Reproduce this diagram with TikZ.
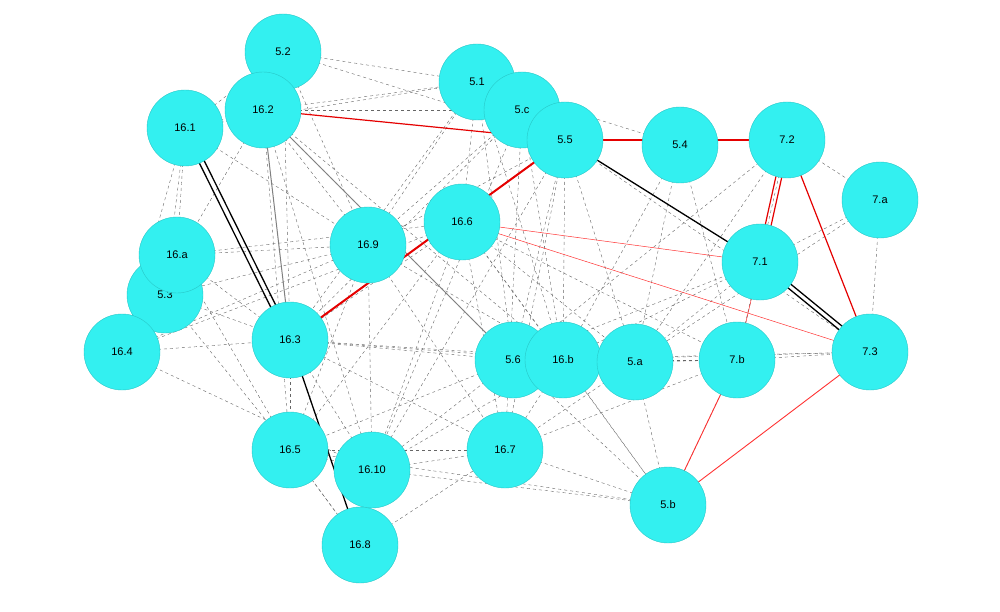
\documentclass[tikz,border=0pt]{standalone}
\usepackage{fontspec}
\setmainfont{Liberation Sans}
\usetikzlibrary{arrows.meta}
\definecolor{nodecyan}{RGB}{51,240,240}
\definecolor{nodeedge}{RGB}{40,200,200}
\tikzset{
 nd/.style={circle,fill=nodecyan,draw=nodeedge,line width=0.4pt,minimum size=76pt,inner sep=0pt,font=\fontsize{11}{13}\selectfont},
 dsh/.style={draw=black!60,dashed,line width=0.4pt,-{Stealth[length=4pt,width=3pt]}},
 redl/.style={draw=red!90!black,line width=1.2pt,-{Stealth[length=7pt,width=5pt]}},
 redt/.style={draw=red!80,line width=0.5pt,-{Stealth[length=6pt,width=4pt]}},
 blk/.style={draw=black,line width=1.3pt,-{Stealth[length=7pt,width=5pt]}}
}
\begin{document}
\begin{tikzpicture}[x=1pt,y=-1pt]
\useasboundingbox (0,0) rectangle (1000,612);
\path[fill=white] (0,0) rectangle (1000,612);
% nodes positioned as coordinates first
\foreach \n/\x/\y in {n52/283/52,n161/185/128,n162/263/110,n51/477/82,n5c/522/110,n55/565/140,n54/680/145,n72/787/140,n7a/880/200,n166/462/222,n169/368/245,n53/165/295,n16a/177/255,n164/122/352,n163/290/340,n56/513/360,n16b/563/360,n5a/635/362,n7b/737/360,n71/760/262,n73/870/352,n165/290/450,n1610/372/470,n167/505/450,n5b/668/505,n168/360/545}
  \coordinate (\n) at (\x,\y);
% dashed edges
\foreach \a/\b in {n52/n51,n52/n161,n52/n162,n52/n163,n52/n55,n161/n51,n161/n16a,n161/n53,n161/n164,n161/n169,n162/n51,n162/n5c,n162/n169,n162/n165,n162/n56,n162/n16b,n162/n1610,n162/n164,n51/n169,n51/n163,n51/n56,n51/n16b,n51/n166,n51/n54,n5c/n163,n5c/n167,n5c/n1610,n5c/n16b,n5c/n169,n55/n56,n55/n16b,n55/n5a,n55/n169,n55/n1610,n55/n167,n55/n72,n55/n73,n54/n16b,n54/n5a,n54/n7b,n72/n7a,n72/n5a,n72/n56,n72/n7b,n7a/n73,n7a/n5a,n7a/n71,n166/n164,n166/n165,n166/n1610,n166/n167,n166/n16b,n166/n5a,n166/n5b,n166/n7b,n166/n163,n169/n165,n169/n1610,n169/n167,n169/n16b,n169/n53,n16a/n163,n16a/n165,n16a/n166,n16a/n169,n53/n165,n53/n163,n164/n163,n164/n169,n164/n1610,n163/n56,n163/n165,n163/n16b,n163/n1610,n163/n167,n163/n5a,n56/n165,n56/n1610,n56/n5b,n56/n71,n16b/n167,n16b/n1610,n16b/n5b,n16b/n7b,n16b/n73,n5a/n167,n5a/n71,n5a/n5b,n5a/n7b,n7b/n73,n7b/n5b,n7b/n167,n71/n7b,n71/n16b,n165/n1610,n165/n167,n165/n168,n1610/n167,n1610/n5b,n167/n5b,n168/n1610,n168/n167,n168/n165,n5b/n165,n73/n56,n55/n71,n161/n162,n16a/n164,n51/n55,n52/n169}
  \draw[dsh] (\a) -- (\b);
% solid edges
\draw[draw=black!50,line width=1pt,-{Stealth[length=6pt]}] (n162) -- (n163);
\draw[draw=black!50,line width=1pt,-{Stealth[length=6pt]}] (n162) -- (n56);
\draw[blk] ([xshift=-3pt]n161) -- ([xshift=-3pt]n163);
\draw[blk] ([xshift=3pt]n163) -- ([xshift=3pt]n161);
\draw[blk] (n163) -- (n168);
\draw[blk] (n55) -- (n71);
\draw[blk] ([yshift=-3pt]n71) -- ([yshift=-3pt]n73);
\draw[blk] ([yshift=3pt]n73) -- ([yshift=3pt]n71);
\draw[redl] (n162) -- (n55);
\draw[redl] (n55) -- (n72);
\draw[redl,line width=2pt] (n163) -- (n55);
\draw[redt] (n166) -- (n71);
\draw[redt] (n166) -- (n73);
\draw[redl] (n72) -- (n73);
\draw[redl] ([xshift=-3pt]n72) -- ([xshift=-3pt]n71);
\draw[redl] ([xshift=3pt]n71) -- ([xshift=3pt]n72);
\draw[redt] (n71) -- (n7b);
\draw[redt,line width=0.9pt] (n7b) -- (n5b);
\draw[redt,line width=0.9pt] (n5b) -- (n73);
% nodes
\node[nd] (N52) at (n52) {5.2};
\node[nd] (N51) at (n51) {5.1};
\node[nd] (N161) at (n161) {16.1};
\node[nd] (N162) at (n162) {16.2};
\node[nd] (N5c) at (n5c) {5.c};
\node[nd] (N55) at (n55) {5.5};
\node[nd] (N54) at (n54) {5.4};
\node[nd] (N72) at (n72) {7.2};
\node[nd] (N7a) at (n7a) {7.a};
\node[nd] (N166) at (n166) {16.6};
\node[nd] (N169) at (n169) {16.9};
\node[nd] (N53) at (n53) {5.3};
\node[nd] (N16a) at (n16a) {16.a};
\node[nd] (N164) at (n164) {16.4};
\node[nd] (N163) at (n163) {16.3};
\node[nd] (N56) at (n56) {5.6};
\node[nd] (N16b) at (n16b) {16.b};
\node[nd] (N5a) at (n5a) {5.a};
\node[nd] (N7b) at (n7b) {7.b};
\node[nd] (N71) at (n71) {7.1};
\node[nd] (N73) at (n73) {7.3};
\node[nd] (N165) at (n165) {16.5};
\node[nd] (N1610) at (n1610) {16.10};
\node[nd] (N167) at (n167) {16.7};
\node[nd] (N5b) at (n5b) {5.b};
\node[nd] (N168) at (n168) {16.8};
\end{tikzpicture}
\end{document}
